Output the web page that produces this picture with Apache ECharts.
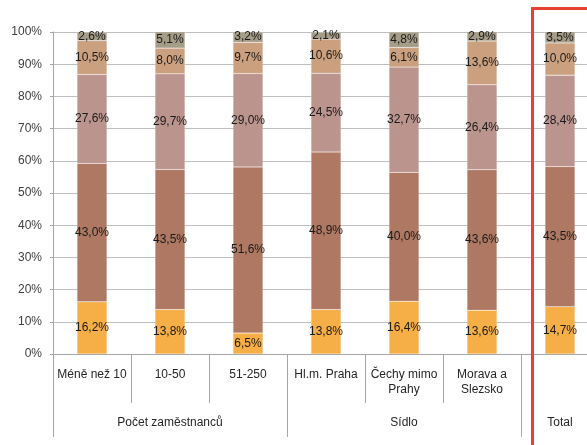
<!DOCTYPE html>
<html>
<head>
<meta charset="utf-8">
<script src="https://cdn.jsdelivr.net/npm/echarts@6/dist/echarts.min.js"></script>
<style>
  html, body { margin: 0; padding: 0; background: #fff; }
  #chart { width: 587px; height: 445px; }
</style>
</head>
<body>
<div id="chart"></div>
<script>
// Category labels (first row) and group labels (second row)
const categories = ['Méně než 10', '10-50', '51-250', 'Hl.m. Praha', 'Čechy mimo\nPrahy', 'Morava a\nSlezsko', ''];
const groupLabels = ['', 'Počet zaměstnanců', '', '', 'Sídlo', '', 'Total'];
const groupStarts = [0, 3, 6];

// Stacked shares (%) from bottom to top
const share1 = [16.2, 13.8, 6.5, 13.8, 16.4, 13.6, 14.7];
const share2 = [43.0, 43.5, 51.6, 48.9, 40.0, 43.6, 43.5];
const share3 = [27.6, 29.7, 29.0, 24.5, 32.7, 26.4, 28.4];
const share4 = [10.5, 8.0, 9.7, 10.6, 6.1, 13.6, 10.0];
const share5 = [2.6, 5.1, 3.2, 2.1, 4.8, 2.9, 3.5];

const seriesData = [share1, share2, share3, share4, share5];
const colors = ['#F6AE47', '#AE7862', '#BC948E', '#CBA07F', '#A69D88'];

const fontFamily = '"Liberation Sans", Arial, sans-serif';
const fmt = v => v.toFixed(1).replace('.', ',') + '%';

const chart = echarts.init(document.getElementById('chart'));

chart.setOption({
  animation: false,
  textStyle: { fontFamily },
  grid: { left: 53, top: 32, height: 322, width: 546, containLabel: false, outerBoundsMode: 'none' },
  xAxis: [
    {
      type: 'category',
      data: categories,
      position: 'bottom',
      axisLine: { show: true, lineStyle: { color: '#a6a6a6', width: 1 } },
      axisTick: { show: true, length: 49, interval: 0, lineStyle: { color: '#a6a6a6' } },
      axisLabel: {
        interval: 0, margin: 13, color: '#262626', fontSize: 12,
        lineHeight: 15, fontFamily
      }
    },
    {
      type: 'category',
      data: groupLabels,
      position: 'bottom',
      axisLine: { show: false },
      axisTick: {
        show: true, length: 83,
        interval: (idx) => groupStarts.indexOf(idx) !== -1,
        lineStyle: { color: '#a6a6a6' }
      },
      axisLabel: { interval: 0, margin: 63, color: '#262626', fontSize: 12, fontFamily },
      splitLine: { show: false }
    }
  ],
  yAxis: {
    type: 'value',
    min: 0, max: 100, interval: 10,
    axisLine: { show: true, lineStyle: { color: '#a6a6a6' } },
    axisTick: { show: true, length: 3, lineStyle: { color: '#a6a6a6' } },
    axisLabel: { formatter: '{value}%', margin: 11, color: '#404040', fontSize: 12, fontFamily },
    splitLine: { show: true, lineStyle: { color: '#bfbfbf', width: 1 } }
  },
  series: seriesData.map((d, i) => ({
    type: 'bar',
    stack: 'total',
    xAxisIndex: 0,
    barWidth: 30,
    data: d,
    itemStyle: { color: colors[i], borderColor: 'rgba(255,255,255,0.35)', borderWidth: 0.5 },
    label: {
      show: true,
      position: 'inside',
      color: '#1a1a1a',
      fontSize: 12,
      fontFamily,
      formatter: p => fmt(p.value)
    }
  }))
});

// Red highlight frame around the total column
const cx = chart.convertToPixel({ xAxisIndex: 0 }, 6);
chart.setOption({
  graphic: [{
    type: 'rect',
    shape: { x: cx - 27.5, y: 8.5, width: 80, height: 460 },
    style: { fill: 'none', stroke: '#E8412F', lineWidth: 3 },
    z: 100
  }]
});
</script>
</body>
</html>
